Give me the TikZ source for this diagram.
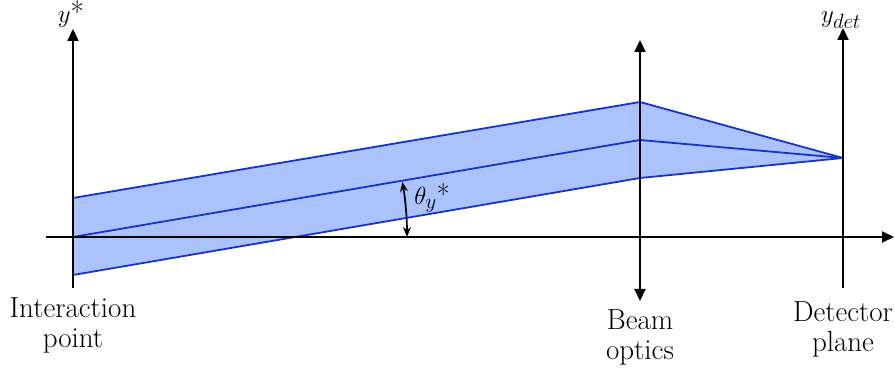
\documentclass[tikz,border=0pt]{standalone}
\usetikzlibrary{positioning,arrows.meta}
\definecolor{beamfill}{RGB}{172,194,252}
\definecolor{beamline}{RGB}{22,52,205}
\tikzset{optics/.style={x=1pt,y=1pt,font=\fontsize{29}{30}\selectfont},
  axis/.style={line width=2pt},
  tip/.style={-{Triangle[length=12pt,width=11pt]}},
  ray/.style={beamline,line width=1.8pt,line join=round},
  lab/.style={align=center,inner sep=0pt,anchor=north}}

\begin{document}
\begin{tikzpicture}[optics]
    \useasboundingbox (0,0) rectangle (895,372);
    % points of the beam envelope
    \coordinate (ipup) at (73,174);  \coordinate (ipmid) at (73,135);  \coordinate (iplow) at (73,97);
    \coordinate (boup) at (640,270); \coordinate (bomid) at (640,232); \coordinate (bolow) at (640,194);
    \coordinate (focus) at (843,214);
    \fill[beamfill] (ipup) -- (boup) -- (focus) -- (bolow) -- (iplow) -- cycle;
    \draw[ray] (ipup) -- (boup) -- (focus); % upper ray
    \draw[ray] (ipmid) -- (bomid) -- (focus); % central ray
    \draw[ray] (iplow) -- (bolow) -- (focus); % lower ray
    % axes
    \coordinate (zstart) at (46,135);  \coordinate (zend) at (894,135);
    \coordinate (ipbot) at (73,84);    \coordinate (iptop) at (73,343);
    \coordinate (bobot) at (640,71);   \coordinate (botop) at (640,332);
    \coordinate (detbot) at (843,84);  \coordinate (dettop) at (843,344);
    \draw[axis,tip] (zstart) -- (zend);
    \draw[axis,tip] (ipbot) -- (iptop);
    \draw[axis,{Triangle[length=12pt,width=11pt]}-{Triangle[length=12pt,width=11pt]}] (bobot) -- (botop);
    \draw[axis,tip] (detbot) -- (dettop);
    % angle at the interaction point
    \draw[line width=1.7pt,{Stealth[length=10pt,width=8pt]}-{Stealth[length=10pt,width=8pt]}]
      ([shift={(9.5:334)}]ipmid) arc[start angle=9.5,end angle=0,radius=334];
    \node[font=\fontsize{28}{30}\selectfont] (theta) at (432,174) {$\theta_y$*};
    % labels
    \node[anchor=base,inner sep=0pt] (ystar) at (71,349) {$y$*};
    \node[anchor=base,inner sep=0pt] (ydet) at (841,349) {$y_{det}$};
    \node[lab] (iplab) at (73,75) {Interaction\\point};
    \node[lab] (bolab) at (640,63) {Beam\\optics};
    \node[lab] (detlab) at (843,71) {Detector\\plane};
  \end{tikzpicture}
\end{document}
